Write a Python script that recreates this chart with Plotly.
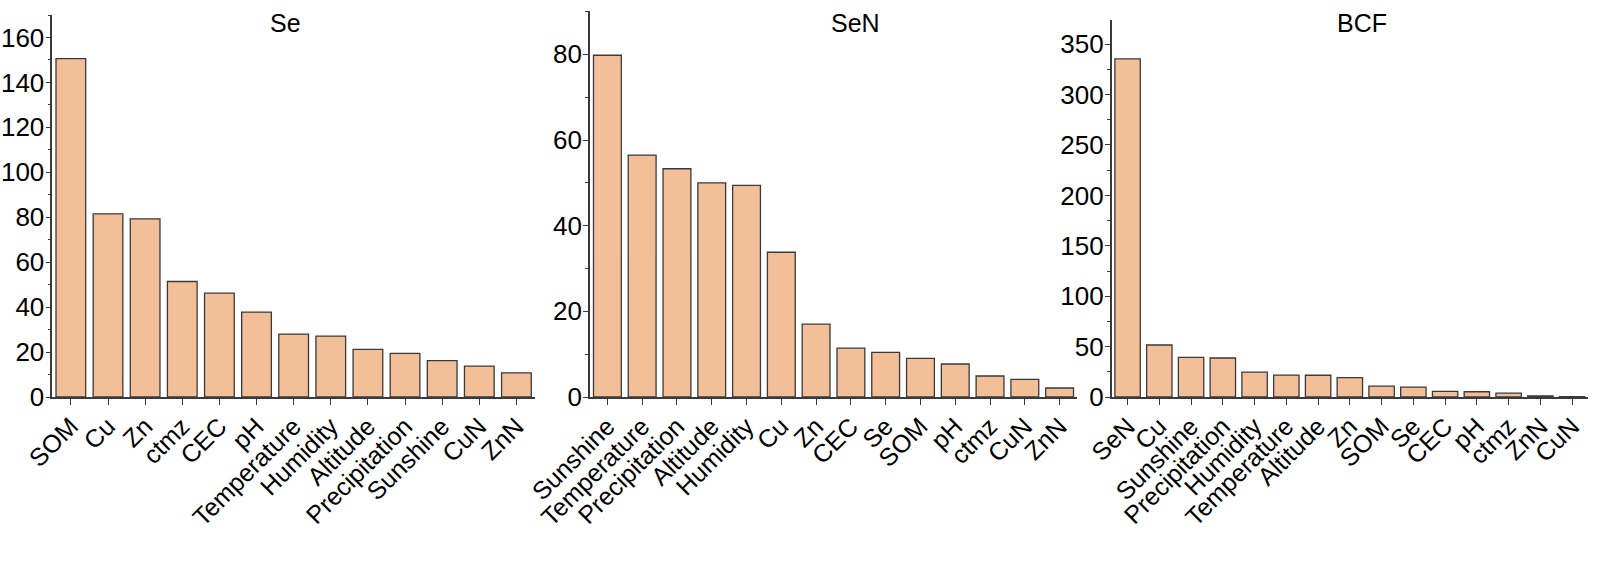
import plotly.graph_objects as go

W, H = 1600, 562

se_cats = ["SOM", "Cu", "Zn", "ctmz", "CEC", "pH", "Temperature", "Humidity",
           "Altitude", "Precipitation", "Sunshine", "CuN", "ZnN"]
se_vals = [150.6, 81.5, 79.3, 51.4, 46.2, 37.8, 28.0, 27.1, 21.2, 19.4, 16.2, 13.7, 10.7]

sen_cats = ["Sunshine", "Temperature", "Precipitation", "Altitude", "Humidity", "Cu",
            "Zn", "CEC", "Se", "SOM", "pH", "ctmz", "CuN", "ZnN"]
sen_vals = [79.8, 56.5, 53.3, 50.0, 49.4, 33.8, 17.0, 11.4, 10.4, 9.0, 7.7, 4.9, 4.1, 2.1]

bcf_cats = ["SeN", "Cu", "Sunshine", "Precipitation", "Humidity", "Temperature",
            "Altitude", "Zn", "SOM", "Se", "CEC", "pH", "ctmz", "ZnN", "CuN"]
bcf_vals = [335.4, 51.6, 39.3, 38.7, 24.6, 21.8, 21.6, 19.2, 10.8, 9.8, 5.5, 5.2, 3.8, 1.2, 0.3]

titles = ["Se", "SeN", "BCF"]

BAR = "#F3BF99"
LINE = "#3a3a3a"
TXT = "#000000"
FONT = "Liberation Sans, Arial, sans-serif"

panels = [
    dict(cats=se_cats, vals=se_vals, yr=170, dt=20, mdt=10,
         xd=(52.3, 535), top=15, tx=285),
    dict(cats=sen_cats, vals=sen_vals, yr=90.2, dt=20, mdt=10,
         xd=(590, 1077), top=10.7, tx=855),
    dict(cats=bcf_cats, vals=bcf_vals, yr=374, dt=50, mdt=25,
         xd=(1111.7, 1588), top=20, tx=1362),
]
base = 397

fig = go.Figure()
layout = dict(
    width=W, height=H,
    margin=dict(l=0, r=0, t=0, b=0),
    paper_bgcolor="white", plot_bgcolor="white",
    showlegend=False,
    bargap=0.2,
    font=dict(family=FONT, size=24, color=TXT),
    annotations=[],
)

for i, p in enumerate(panels):
    n = i + 1
    xa = "x" if n == 1 else f"x{n}"
    ya = "y" if n == 1 else f"y{n}"
    fig.add_trace(go.Bar(
        x=p["cats"], y=p["vals"], xaxis=xa, yaxis=ya,
        marker=dict(color=BAR, line=dict(color=LINE, width=1.3)),
    ))
    ncat = len(p["cats"])
    layout["xaxis" if n == 1 else f"xaxis{n}"] = dict(
        domain=[p["xd"][0] / W, p["xd"][1] / W],
        anchor=ya,
        type="category",
        range=[-0.5, ncat - 0.5],
        showline=True, linecolor=LINE, linewidth=1.6,
        ticks="outside", ticklen=6, tickwidth=1.3, tickcolor=LINE,
        tickangle=-45,
        tickfont=dict(size=25, family=FONT, color=TXT),
        ticklabelstandoff=-3,
        showgrid=False, zeroline=False, automargin=False,
        fixedrange=True,
    )
    layout["yaxis" if n == 1 else f"yaxis{n}"] = dict(
        domain=[1 - base / H, 1 - p["top"] / H],
        anchor=xa,
        range=[0, p["yr"]],
        dtick=p["dt"], tick0=0,
        showline=True, linecolor=LINE, linewidth=1.6,
        ticks="outside", ticklen=5, tickwidth=1.3, tickcolor=LINE,
        minor=dict(dtick=p["mdt"], ticks="outside", ticklen=3, tickwidth=1.1, tickcolor=LINE),
        tickfont=dict(size=26, family=FONT, color=TXT),
        ticklabelstandoff=-4,
        showgrid=False, zeroline=False, automargin=False,
        fixedrange=True,
    )
    layout["annotations"].append(dict(
        text=titles[i], xref="paper", yref="paper",
        x=p["tx"] / W, y=1 - 23 / H, xanchor="center", yanchor="middle",
        showarrow=False, font=dict(size=25, family=FONT, color=TXT),
    ))

fig.update_layout(**layout)
fig.write_html("out.html", config={"displayModeBar": False},
               post_script="document.body.style.margin='0';")
